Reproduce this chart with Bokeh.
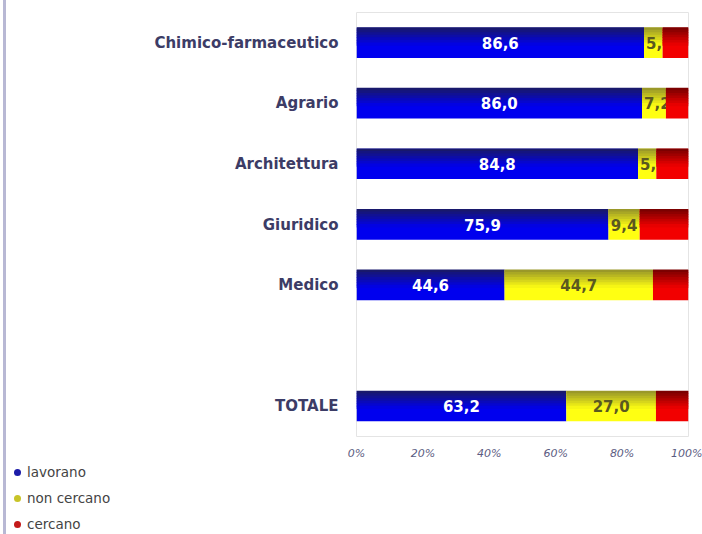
import pandas as pd
from bokeh.plotting import figure
from bokeh.models import (ColumnDataSource, FactorRange, Range1d, FixedTicker, Div)
from bokeh.layouts import row, column
from bokeh.transform import dodge
from bokeh.core.properties import value
from bokeh.embed import file_html
from bokeh.resources import INLINE

# ---------------- data ----------------
categories = ["Chimico-farmaceutico", "Agrario", "Architettura", "Giuridico", "Medico", "TOTALE"]
lavorano = [86.6, 86.0, 84.8, 75.9, 44.6, 63.2]
non_cercano = [5.6, 7.2, 5.5, 9.4, 44.7, 27.0]
cercano = [7.8, 6.8, 9.7, 14.7, 10.7, 9.8]
series_names = ["lavorano", "non cercano", "cercano"]
x_ticks = [0, 20, 40, 60, 80, 100]
tick_labels = ["0%", "20%", "40%", "60%", "80%", "100%"]
gap_label = " "

# ---------------- styles ----------------
FONT = "DejaVu Sans"
bright = ["#0000ee", "#ffff12", "#f20000"]
dark = ["#18186c", "#9a9828", "#7c0000"]
legend_colors = ["#1c1ca8", "#c8c428", "#c41a1a"]
BAR_H = 0.5
LABEL_HALF = 4.6   # half width of a short value label, in axis units

def blend(c1, c2, t):
    a = [int(c1[i:i + 2], 16) for i in (1, 3, 5)]
    b = [int(c2[i:i + 2], 16) for i in (1, 3, 5)]
    return "#%02x%02x%02x" % tuple(round(a[k] + (b[k] - a[k]) * t) for k in range(3))

fmt = lambda v: f"{v:.1f}".replace(".", ",")

df = pd.DataFrame({"cat": categories})
vals = [lavorano, non_cercano, cercano]
left = [0.0] * len(categories)
for s, v in enumerate(vals):
    df[f"l{s}"] = left
    df[f"r{s}"] = [a + b for a, b in zip(left, v)]
    df[f"m{s}"] = [max(a + b / 2, a + LABEL_HALF) for a, b in zip(left, v)]
    df[f"t{s}"] = [fmt(x) for x in v]
    left = list(df[f"r{s}"])
src = ColumnDataSource(df)

factors = [categories[-1], gap_label] + list(reversed(categories[:-1]))

p = figure(width=696, height=462, output_backend="svg", toolbar_location=None,
           y_range=FactorRange(factors=factors), x_range=Range1d(0, 100),
           min_border_left=350, min_border_right=14, min_border_top=12,
           min_border_bottom=23)
p.background_fill_color = "white"
p.border_fill_color = "white"
p.outline_line_color = "#e4e4e4"
p.outline_line_width = 1
p.xgrid.grid_line_color = None
p.ygrid.grid_line_color = None

# bars with a simulated vertical gradient
N = 12
step = BAR_H / N

def draw_series(s):
    p.hbar(y="cat", left=f"l{s}", right=f"r{s}", height=BAR_H, source=src,
           fill_color=bright[s], line_color=None)
    for i in range(N):
        t = i / (N * 0.55)
        if t >= 1:
            break
        off = BAR_H / 2 - (i + 0.5) * step
        p.hbar(y=dodge("cat", off, range=p.y_range), left=f"l{s}", right=f"r{s}",
               height=step * 1.3, source=src, fill_color=blend(dark[s], bright[s], t),
               line_color=None)

draw_series(0)
draw_series(1)

# value labels (the red segments are drawn over any overflowing label)
p.text(x="m0", y="cat", text="t0", source=src, text_align="center", text_baseline="middle",
       text_color="white", text_font=value(FONT), text_font_style="bold", text_font_size="15px")
p.text(x="m1", y="cat", text="t1", source=src, text_align="center", text_baseline="middle",
       text_color="#5a5820", text_font=value(FONT), text_font_style="bold", text_font_size="15px")

draw_series(2)

# axes
ya = p.yaxis[0]
ya.axis_line_color = None
ya.major_tick_line_color = None
ya.minor_tick_line_color = None
ya.major_tick_out = 0
ya.major_label_standoff = 18
ya.major_label_text_font = FONT
ya.major_label_text_font_style = "bold"
ya.major_label_text_font_size = "15px"
ya.major_label_text_color = "#3c3c66"

xa = p.xaxis[0]
xa.ticker = FixedTicker(ticks=x_ticks)
xa.major_label_overrides = {t: l for t, l in zip(x_ticks, tick_labels)}
xa.axis_line_color = None
xa.major_tick_line_color = None
xa.minor_tick_line_color = None
xa.major_tick_out = 0
xa.major_label_standoff = 10
xa.major_label_text_font = FONT
xa.major_label_text_font_style = "italic"
xa.major_label_text_font_size = "11px"
xa.major_label_text_color = "#5c5c82"

# legend (HTML block below the chart)
rows_html = "".join(
    f'<div style="height:20px;line-height:20px;margin-bottom:6px;white-space:nowrap">'
    f'<span style="display:inline-block;width:7px;height:7px;border-radius:50%;'
    f'background:{c};margin:0 6px 0 0;vertical-align:middle;position:relative;top:-1px"></span>'
    f'{name}</div>'
    for name, c in zip(series_names, legend_colors))
legend_div = Div(width=696, height=72, margin=0,
                 text=f'<div style="font-family:\'DejaVu Sans\';font-size:13.5px;'
                      f'color:#444444;padding-left:8px">{rows_html}</div>')

# thin vertical rule at the left edge of the page
rule = Div(width=3, height=534, margin=(0, 0, 0, 3),
           styles={"background-color": "#b8b8d4"})

layout = row(rule, column(p, legend_div, spacing=0), spacing=0)

open("out.html", "w").write(file_html(layout, INLINE))
